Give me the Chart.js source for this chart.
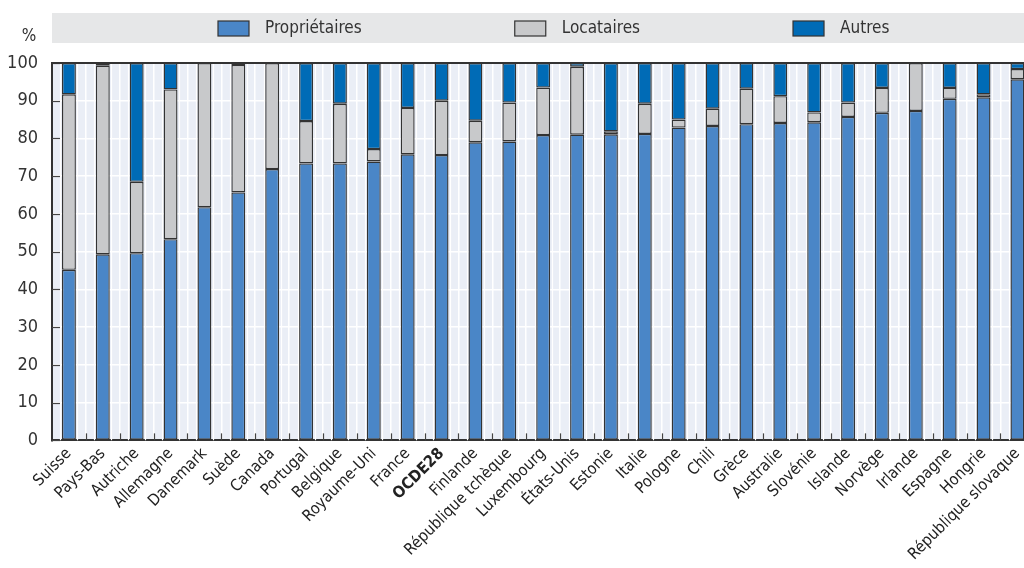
<!DOCTYPE html>
<html><head><meta charset="utf-8">
<script src="https://cdn.jsdelivr.net/npm/chart.js@4.4.1/dist/chart.umd.min.js"></script>
<style>
html,body{margin:0;padding:0;overflow:hidden;background:#fff;width:1024px;height:568px}
#wrap{position:absolute;left:0;top:0;width:1035px;height:568px}
</style></head><body>
<div id="wrap"><canvas id="c"></canvas></div>
<script>
const categories = ['Suisse','Pays-Bas','Autriche','Allemagne','Danemark','Suède','Canada','Portugal','Belgique','Royaume-Uni','France','OCDE28','Finlande','République tchèque','Luxembourg','États-Unis','Estonie','Italie','Pologne','Chili','Grèce','Australie','Slovénie','Islande','Norvège','Irlande','Espagne','Hongrie','République slovaque'];
const proprietaires = [45.2,49.3,49.6,53.3,61.8,65.7,71.9,73.4,73.4,73.9,75.8,75.6,79.0,79.2,80.9,81.0,81.1,81.2,82.9,83.3,83.8,84.1,84.3,85.7,86.8,87.3,90.5,90.9,95.7];
const locataires   = [46.5,50.0,18.9,39.7,38.2,33.8,28.1,11.2,15.8,3.3,12.3,14.4,5.7,10.3,12.6,18.0,0.8,8.0,2.1,4.6,9.4,7.1,2.6,3.8,6.6,12.7,2.9,0.8,2.7];
const autres       = [8.3,0.7,31.5,7.0,0.0,0.5,0.0,15.4,10.8,22.8,11.9,10.0,15.3,10.5,6.5,1.0,18.1,10.8,15.0,12.1,6.8,8.8,13.1,10.5,6.6,0.0,6.6,8.3,1.6];
const seriesNames = ['Propriétaires','Locataires','Autres'];
const yTicks = [0,10,20,30,40,50,60,70,80,90,100];
const highlighted = 'OCDE28';
const unitLabel = '%';

const FONT = "'DejaVu Sans Condensed','DejaVu Sans',sans-serif";
const COLORS = ['#4a86c7','#c8c9cb','#006bb6'];
const EDGE = '#333333';
const PLOT_BG = '#eaeef6';
const LEGEND_BG = '#e6e7e8';

const decor = {
  id: 'decor',
  beforeDraw(chart) {
    const {ctx, chartArea: a} = chart;
    ctx.save();
    ctx.fillStyle = PLOT_BG;
    ctx.fillRect(a.left, a.top, a.right - a.left, a.bottom - a.top);
    ctx.fillStyle = LEGEND_BG;
    ctx.fillRect(a.left, 13, chart.width - a.left, 30);
    ctx.font = '17px ' + FONT;
    ctx.textBaseline = 'middle';
    ctx.textAlign = 'left';
    let lx = 218;
    chart.data.datasets.forEach((ds) => {
      ctx.fillStyle = ds.backgroundColor;
      ctx.fillRect(lx, 21, 31, 15);
      ctx.strokeStyle = EDGE; ctx.lineWidth = 1.2;
      ctx.strokeRect(lx, 21, 31, 15);
      ctx.fillStyle = '#333';
      ctx.fillText(ds.label, lx + 47, 29);
      lx += 47 + ctx.measureText(ds.label).width + 153;
    });
    ctx.font = '17px ' + FONT;
    ctx.textAlign = 'center';
    ctx.fillStyle = '#333';
    ctx.fillText(unitLabel, 29, 37);
    ctx.restore();
  },
  beforeDatasetsDraw(chart) {
    const {ctx, chartArea: a, scales: {x, y}} = chart;
    ctx.save();
    const step = x.getPixelForValue(1) - x.getPixelForValue(0);
    ctx.strokeStyle = '#ffffff'; ctx.lineWidth = 1.2;
    categories.forEach((c, i) => {
      [-0.25, 0.25].forEach(q => {
        const px = Math.round(x.getPixelForValue(i) + q * step) + 0.5;
        ctx.beginPath(); ctx.moveTo(px, a.top); ctx.lineTo(px, a.bottom); ctx.stroke();
      });
    });
    ctx.strokeStyle = '#444'; ctx.lineWidth = 1.2;
    yTicks.forEach(v => {
      const py = Math.round(y.getPixelForValue(v)) + 0.5;
      ctx.beginPath(); ctx.moveTo(a.left, py); ctx.lineTo(a.left + 8, py); ctx.stroke();
    });
    for (let i = 1; i < categories.length; i++) {
      const px = Math.round(x.getPixelForValue(i) - step / 2) + 0.5;
      ctx.beginPath(); ctx.moveTo(px, a.bottom); ctx.lineTo(px, a.bottom - 7); ctx.stroke();
    }
    ctx.strokeStyle = EDGE; ctx.lineWidth = 2;
    ctx.beginPath(); ctx.moveTo(a.left, a.top); ctx.lineTo(a.right, a.top); ctx.stroke();
    ctx.restore();
  }
};

const mk = (i, data) => ({
  label: seriesNames[i], data, backgroundColor: COLORS[i],
  borderColor: EDGE, borderWidth: 1.4, borderSkipped: false
});

new Chart(document.getElementById('c'), {
  type: 'bar',
  data: {labels: categories, datasets: [mk(0, proprietaires), mk(1, locataires), mk(2, autres)]},
  plugins: [decor],
  options: {
    responsive: true, maintainAspectRatio: false, animation: false,
    layout: {padding: {top: 63, bottom: 0, left: 0, right: 0}},
    datasets: {bar: {barPercentage: 0.41, categoryPercentage: 1}},
    plugins: {legend: {display: false}, tooltip: {enabled: false}},
    scales: {
      x: {
        stacked: true, offset: true,
        grid: {color: '#ffffff', lineWidth: 1.5, offset: true, drawTicks: false},
        border: {color: EDGE, width: 2},
        ticks: {
          autoSkip: false, maxRotation: 45, minRotation: 45, color: '#222', padding: 4,
          font: (ctx) => ({family: FONT, size: 16, weight: (categories[ctx.index] === highlighted) ? 'bold' : 'normal'})
        }
      },
      y: {
        stacked: true, min: 0, max: 100,
        afterFit(s) { s.width = 52; },
        afterBuildTicks(s) { s.ticks = yTicks.map(v => ({value: v})); },
        grid: {color: '#ffffff', lineWidth: 1.5, drawTicks: false},
        border: {color: EDGE, width: 2},
        ticks: {color: '#333', padding: 14, font: {family: FONT, size: 18}}
      }
    }
  }
});
</script>
</body></html>
